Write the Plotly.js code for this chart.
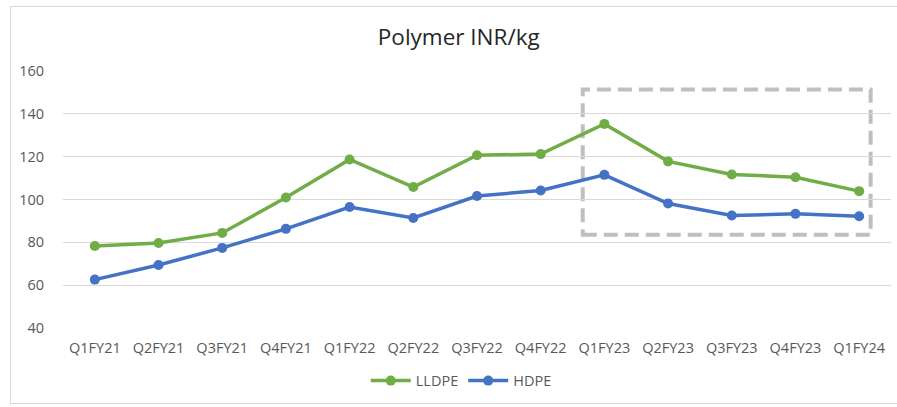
<!DOCTYPE html>
<html>
<head>
<meta charset="utf-8">
<script src="https://cdn.plot.ly/plotly-3.0.1.min.js"></script>
<style>
html,body{margin:0;padding:0;background:#fff;}
#frame{position:absolute;left:10px;top:6px;width:895px;height:398px;border:1px solid #d9d9d9;box-sizing:border-box;}
#chart{position:absolute;left:0;top:0;width:897px;height:407px;}
</style>
</head>
<body>
<div id="frame"></div>
<div id="chart"></div>
<script>
const categories = ["Q1FY21","Q2FY21","Q3FY21","Q4FY21","Q1FY22","Q2FY22","Q3FY22","Q4FY22","Q1FY23","Q2FY23","Q3FY23","Q4FY23","Q1FY24"];
const lldpe = [78.3, 79.7, 84.4, 100.9, 118.7, 105.8, 120.7, 121.2, 135.3, 117.8, 111.7, 110.4, 103.9];
const hdpe  = [62.6, 69.4, 77.4, 86.3, 96.5, 91.4, 101.6, 104.2, 111.5, 98.1, 92.5, 93.3, 92.2];
const yTicks = [40, 60, 80, 100, 120, 140, 160];

const font = "'Open Sans', 'Noto Sans', sans-serif";

const traces = [
  {x: categories, y: lldpe, name: "LLDPE", type: "scatter", mode: "lines+markers",
   line: {color: "#70AD47", width: 3.5}, marker: {color: "#70AD47", size: 10}},
  {x: categories, y: hdpe, name: "HDPE", type: "scatter", mode: "lines+markers",
   line: {color: "#4472C4", width: 3.5}, marker: {color: "#4472C4", size: 10}}
];

const layout = {
  width: 897, height: 407,
  paper_bgcolor: "rgba(0,0,0,0)", plot_bgcolor: "rgba(0,0,0,0)",
  margin: {l: 63, r: 6, t: 71, b: 79, pad: 0},
  font: {family: font, color: "#595959", size: 14.5},
  title: {text: "Polymer INR/kg", font: {family: font, size: 22.5, color: "#262626"},
          x: 0.478, xref: "paper", xanchor: "center", y: 1 - 37/407, yref: "container", yanchor: "middle"},
  showlegend: true,
  legend: {orientation: "h", x: 0.481, xanchor: "center", y: -0.205, yanchor: "middle",
           font: {family: font, size: 14.5, color: "#595959"}, itemwidth: 40, tracegroupgap: 0},
  xaxis: {type: "category", range: [-0.5, 12.5], showgrid: false, zeroline: false, showline: false,
          ticks: "outside", ticklen: 7, tickcolor: "rgba(0,0,0,0)", fixedrange: true},
  yaxis: {range: [40, 160], tickvals: yTicks, showgrid: true, gridcolor: "#d9d9d9", gridwidth: 1,
          zeroline: false, showline: false, ticks: "outside", ticklen: 15, tickcolor: "rgba(0,0,0,0)", fixedrange: true},
  shapes: [
    {type: "rect", xref: "x", yref: "y", x0: 7.66, x1: 12.18, y0: 83.5, y1: 151.4,
     line: {color: "#bfbfbf", width: 4, dash: "14px,7px"}, fillcolor: "rgba(0,0,0,0)", layer: "below"}
  ]
};

Plotly.newPlot("chart", traces, layout, {displayModeBar: false, staticPlot: true});
</script>
</body>
</html>
